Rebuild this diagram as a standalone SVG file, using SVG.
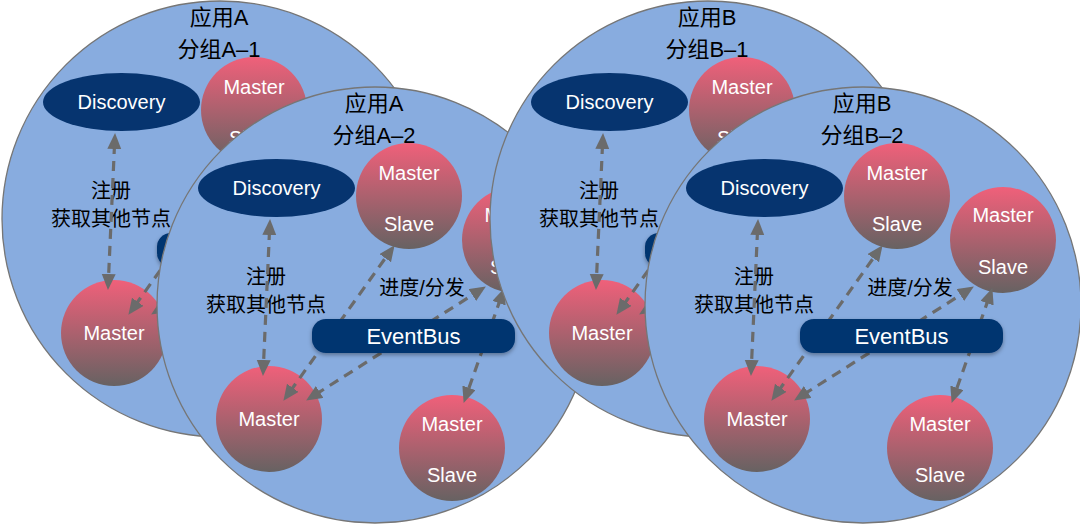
<svg xmlns="http://www.w3.org/2000/svg" width="1080" height="526" viewBox="0 0 1080 526">
<defs>
<linearGradient id="ball" x1="0" y1="0" x2="0" y2="1">
<stop offset="0" stop-color="#F0607A"/>
<stop offset="1" stop-color="#676262"/>
</linearGradient>
<marker id="ah" markerUnits="userSpaceOnUse" markerWidth="17" markerHeight="15" refX="5" refY="7" orient="auto-start-reverse" viewBox="0 0 17 15">
<path d="M0,0 L16,7 L0,14 Z" fill="#6b6b6b"/>
</marker>
<filter id="sh" x="-10%" y="-30%" width="120%" height="170%">
<feDropShadow dx="0" dy="2" stdDeviation="2" flood-color="#000" flood-opacity="0.35"/>
</filter>
</defs>
<style>
.big{fill:#88ACDF;stroke:#767676;stroke-width:1.3}
.ttl{font-family:"Liberation Sans","Noto Sans CJK SC",sans-serif;font-size:22px;fill:#000;text-anchor:middle}
.lbl{font-family:"Liberation Sans","Noto Sans CJK SC",sans-serif;font-size:20px;fill:#000;text-anchor:middle}
.disc{fill:#06346F}
.wt{font-family:"Liberation Sans",Arial,sans-serif;font-size:20px;fill:#fff;text-anchor:middle}
.eb{font-family:"Liberation Sans",Arial,sans-serif;font-size:22px;fill:#fff;text-anchor:middle}
.ball{fill:url(#ball)}
.cn{fill:none;stroke:#6b6b6b;stroke-width:3.2;stroke-dasharray:10 7;marker-start:url(#ah);marker-end:url(#ah)}
</style>

<!-- Group A-1 (back; only the visible parts are drawn) -->
<g id="groupA1" transform="translate(220,219)">
<circle class="big" cx="0" cy="0" r="218"/>
<text class="ttl" x="-1" y="-194">应用A</text>
<text class="ttl" x="-1" y="-162">分组A–1</text>
<g id="A1-discovery"><ellipse class="disc" cx="-98.5" cy="-117" rx="78.5" ry="29"/><text class="wt" x="-98.5" y="-110">Discovery</text></g>
<g id="A1-ms1"><circle class="ball" cx="34" cy="-109" r="53"/><text class="wt" x="34" y="-125">Master</text><text class="wt" x="34" y="-74">Slave</text></g>
<g id="A1-master"><circle class="ball" cx="-106" cy="114" r="53"/><text class="wt" x="-106" y="121">Master</text></g>
<g id="A1-labels"><text class="lbl" x="-109" y="-21">注册</text><text class="lbl" x="-109" y="7">获取其他节点</text></g>
<g id="A1-connectors">
<line class="cn" x1="-105.45" y1="-75" x2="-111.55" y2="60"/>
<line class="cn" x1="-85.2" y1="86.9" x2="13.2" y2="-50.9"/>
<line class="cn" x1="-59.6" y1="89.6" x2="101.6" y2="-12.6"/>
</g>
<g id="A1-eventbus"><rect x="-63" y="14" width="203" height="34" rx="14" fill="#06346F" filter="url(#sh)"/></g>
</g>

<!-- Group A-2 -->
<g id="groupA2" transform="translate(375,305)">
<circle class="big" cx="0" cy="0" r="218"/>
<text class="ttl" x="-1" y="-194">应用A</text>
<text class="ttl" x="-1" y="-162">分组A–2</text>
<g id="A2-discovery"><ellipse class="disc" cx="-98.5" cy="-117" rx="78.5" ry="29"/><text class="wt" x="-98.5" y="-110">Discovery</text></g>
<g id="A2-ms1"><circle class="ball" cx="34" cy="-109" r="53"/><text class="wt" x="34" y="-125">Master</text><text class="wt" x="34" y="-74">Slave</text></g>
<g id="A2-ms2"><circle class="ball" cx="140" cy="-65" r="53"/><text class="wt" x="140" y="-83">Master</text><text class="wt" x="140" y="-31">Slave</text></g>
<g id="A2-master"><circle class="ball" cx="-106" cy="114" r="53"/><text class="wt" x="-106" y="121">Master</text></g>
<g id="A2-ms3"><circle class="ball" cx="77" cy="143" r="53"/><text class="wt" x="77" y="126">Master</text><text class="wt" x="77" y="177">Slave</text></g>
<g id="A2-labels"><text class="lbl" x="-109" y="-21">注册</text><text class="lbl" x="-109" y="7">获取其他节点</text><text class="lbl" x="47" y="-10">进度/分发</text></g>
<g id="A2-connectors">
<line class="cn" x1="-105.45" y1="-75" x2="-111.55" y2="60"/>
<line class="cn" x1="-85.2" y1="86.9" x2="13.2" y2="-50.9"/>
<line class="cn" x1="-59.6" y1="89.6" x2="101.6" y2="-12.6"/>
<line class="cn" x1="125.7" y1="-6.6" x2="92.3" y2="87.6"/>
</g>
<g id="A2-eventbus"><rect x="-63" y="14" width="203" height="34" rx="14" fill="#06346F" filter="url(#sh)"/><text class="eb" x="38.5" y="39">EventBus</text></g>
</g>

<!-- Group B-1 (back; only the visible parts are drawn) -->
<g id="groupB1" transform="translate(708,219)">
<circle class="big" cx="0" cy="0" r="218"/>
<text class="ttl" x="-1" y="-194">应用B</text>
<text class="ttl" x="-1" y="-162">分组B–1</text>
<g id="B1-discovery"><ellipse class="disc" cx="-98.5" cy="-117" rx="78.5" ry="29"/><text class="wt" x="-98.5" y="-110">Discovery</text></g>
<g id="B1-ms1"><circle class="ball" cx="34" cy="-109" r="53"/><text class="wt" x="34" y="-125">Master</text><text class="wt" x="34" y="-74">Slave</text></g>
<g id="B1-master"><circle class="ball" cx="-106" cy="114" r="53"/><text class="wt" x="-106" y="121">Master</text></g>
<g id="B1-labels"><text class="lbl" x="-109" y="-21">注册</text><text class="lbl" x="-109" y="7">获取其他节点</text></g>
<g id="B1-connectors">
<line class="cn" x1="-105.45" y1="-75" x2="-111.55" y2="60"/>
<line class="cn" x1="-85.2" y1="86.9" x2="13.2" y2="-50.9"/>
<line class="cn" x1="-59.6" y1="89.6" x2="101.6" y2="-12.6"/>
</g>
<g id="B1-eventbus"><rect x="-63" y="14" width="203" height="34" rx="14" fill="#06346F" filter="url(#sh)"/></g>
</g>

<!-- Group B-2 -->
<g id="groupB2" transform="translate(863,305)">
<circle class="big" cx="0" cy="0" r="218"/>
<text class="ttl" x="-1" y="-194">应用B</text>
<text class="ttl" x="-1" y="-162">分组B–2</text>
<g id="B2-discovery"><ellipse class="disc" cx="-98.5" cy="-117" rx="78.5" ry="29"/><text class="wt" x="-98.5" y="-110">Discovery</text></g>
<g id="B2-ms1"><circle class="ball" cx="34" cy="-109" r="53"/><text class="wt" x="34" y="-125">Master</text><text class="wt" x="34" y="-74">Slave</text></g>
<g id="B2-ms2"><circle class="ball" cx="140" cy="-65" r="53"/><text class="wt" x="140" y="-83">Master</text><text class="wt" x="140" y="-31">Slave</text></g>
<g id="B2-master"><circle class="ball" cx="-106" cy="114" r="53"/><text class="wt" x="-106" y="121">Master</text></g>
<g id="B2-ms3"><circle class="ball" cx="77" cy="143" r="53"/><text class="wt" x="77" y="126">Master</text><text class="wt" x="77" y="177">Slave</text></g>
<g id="B2-labels"><text class="lbl" x="-109" y="-21">注册</text><text class="lbl" x="-109" y="7">获取其他节点</text><text class="lbl" x="47" y="-10">进度/分发</text></g>
<g id="B2-connectors">
<line class="cn" x1="-105.45" y1="-75" x2="-111.55" y2="60"/>
<line class="cn" x1="-85.2" y1="86.9" x2="13.2" y2="-50.9"/>
<line class="cn" x1="-59.6" y1="89.6" x2="101.6" y2="-12.6"/>
<line class="cn" x1="125.7" y1="-6.6" x2="92.3" y2="87.6"/>
</g>
<g id="B2-eventbus"><rect x="-63" y="14" width="203" height="34" rx="14" fill="#06346F" filter="url(#sh)"/><text class="eb" x="38.5" y="39">EventBus</text></g>
</g>
</svg>
